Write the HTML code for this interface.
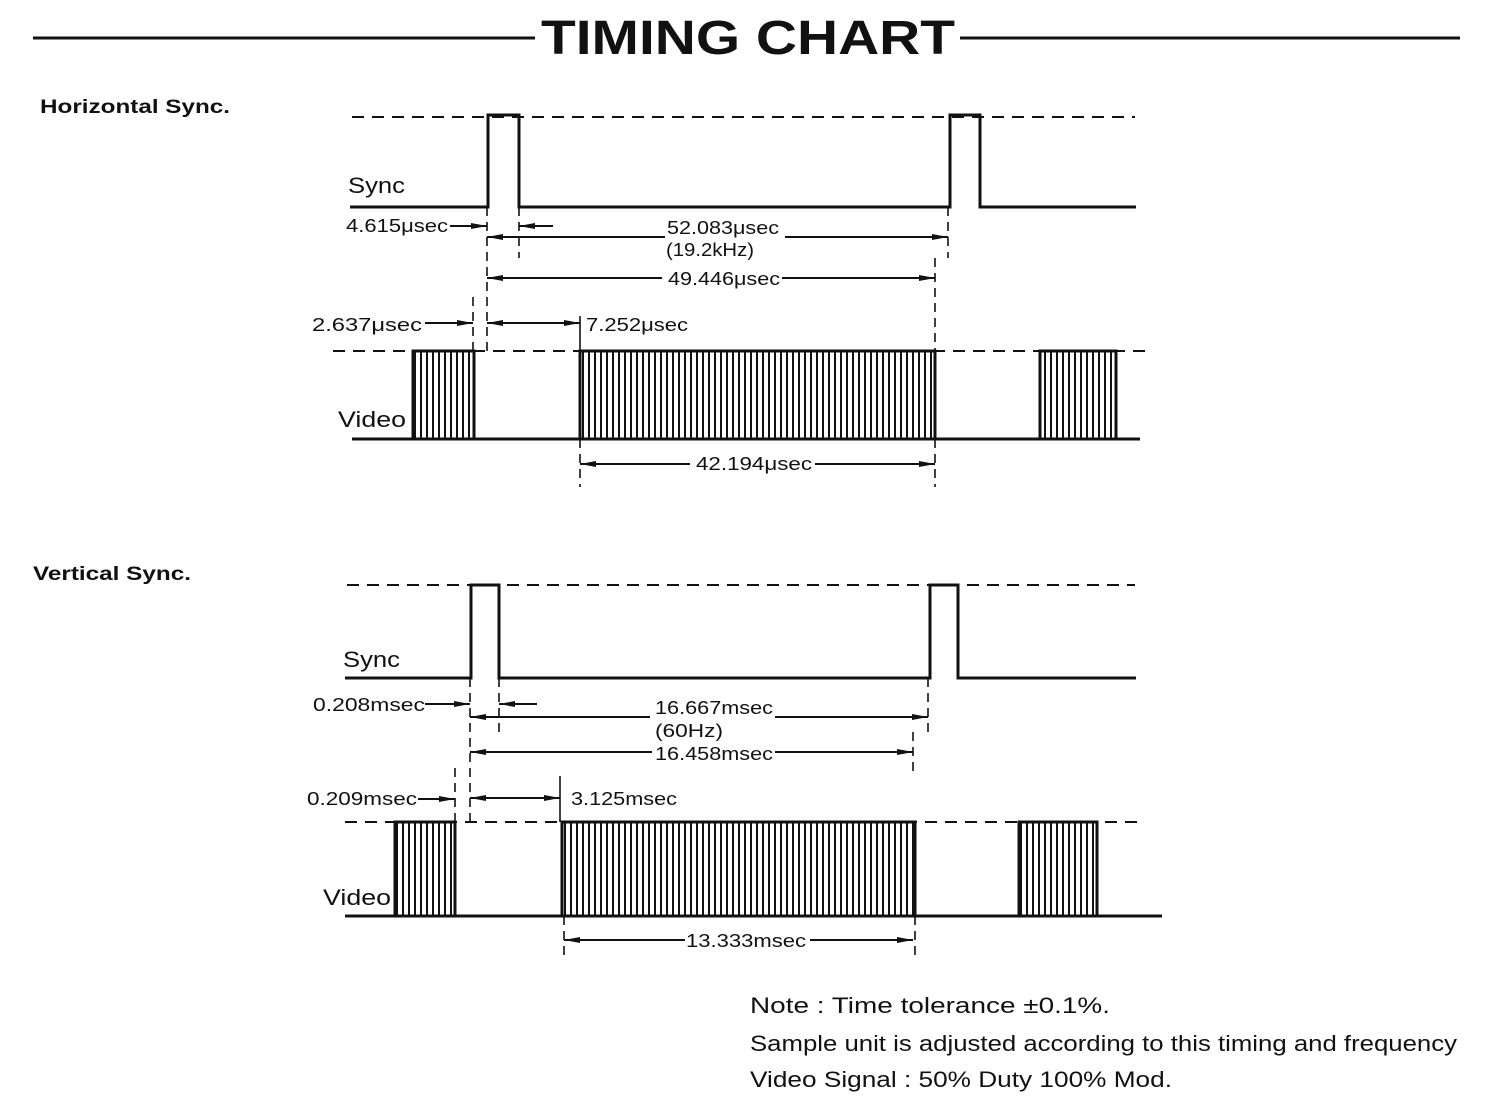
<!DOCTYPE html>
<html><head><meta charset="utf-8"><style>
html,body{margin:0;padding:0;background:#fff;}
svg{display:block;}
text{font-family:"Liberation Sans",sans-serif;fill:#111;}
</style></head><body>
<svg width="1500" height="1105" viewBox="0 0 1500 1105" xmlns="http://www.w3.org/2000/svg">
<defs>
<pattern id="h" width="6" height="10" patternUnits="userSpaceOnUse">
<rect x="0" y="0" width="2" height="10" fill="#111"/>
</pattern>
<marker id="a" viewBox="0 0 16 8" refX="16" refY="4" markerWidth="16" markerHeight="8" markerUnits="userSpaceOnUse" orient="auto-start-reverse">
<path d="M0,1 L16,4 L0,7 z" fill="#111"/>
</marker>
</defs>
<g stroke="#111" fill="none">
<line x1="33" y1="38" x2="535" y2="38" stroke-width="3"/>
<line x1="960" y1="38" x2="1460" y2="38" stroke-width="3"/>

<!-- HORIZONTAL -->
<line x1="352" y1="117" x2="1135" y2="117" stroke-width="2" stroke-dasharray="12,8"/>
<path d="M350,207 H488 V115 H519 V207 H950 V115 H980 V207 H1136" stroke-width="3"/>
<g stroke-width="1.6" stroke-dasharray="9,6">
<line x1="487" y1="207" x2="487" y2="352"/>
<line x1="519" y1="207" x2="519" y2="258"/>
<line x1="948" y1="207" x2="948" y2="258"/>
<line x1="935" y1="258" x2="935" y2="352"/>
<line x1="473" y1="297" x2="473" y2="352"/>
<line x1="935" y1="439" x2="935" y2="487"/>
<line x1="580" y1="439" x2="580" y2="487"/>
</g>
<line x1="580" y1="316" x2="580" y2="352" stroke-width="1.6"/>
<g stroke-width="2">
<line x1="450" y1="226" x2="487" y2="226" marker-end="url(#a)"/>
<line x1="553" y1="226" x2="519" y2="226" marker-end="url(#a)"/>
<line x1="487" y1="237" x2="665" y2="237" marker-start="url(#a)"/>
<line x1="785" y1="237" x2="948" y2="237" marker-end="url(#a)"/>
<line x1="487" y1="278" x2="662" y2="278" marker-start="url(#a)"/>
<line x1="782" y1="278" x2="935" y2="278" marker-end="url(#a)"/>
<line x1="425" y1="323" x2="473" y2="323" marker-end="url(#a)"/>
<line x1="487" y1="323" x2="580" y2="323" marker-start="url(#a)" marker-end="url(#a)"/>
<line x1="580" y1="464" x2="690" y2="464" marker-start="url(#a)"/>
<line x1="815" y1="464" x2="935" y2="464" marker-end="url(#a)"/>
</g>
<line x1="333" y1="351" x2="1145" y2="351" stroke-width="2" stroke-dasharray="12,8"/>
<rect x="413" y="351" width="61" height="88" fill="url(#h)" stroke-width="3"/>
<rect x="580" y="351" width="355" height="88" fill="url(#h)" stroke-width="3"/>
<rect x="1040" y="351" width="76" height="88" fill="url(#h)" stroke-width="3"/>
<line x1="352" y1="439" x2="1140" y2="439" stroke-width="3"/>

<!-- VERTICAL -->
<line x1="347" y1="585" x2="1135" y2="585" stroke-width="2" stroke-dasharray="12,8"/>
<path d="M345,678 H471 V585 H499 V678 H930 V585 H958 V678 H1136" stroke-width="3"/>
<g stroke-width="1.6" stroke-dasharray="9,6">
<line x1="470" y1="678" x2="470" y2="822"/>
<line x1="499" y1="678" x2="499" y2="732"/>
<line x1="928" y1="678" x2="928" y2="732"/>
<line x1="913" y1="732" x2="913" y2="776"/>
<line x1="455" y1="768" x2="455" y2="822"/>
<line x1="564" y1="916" x2="564" y2="957"/>
<line x1="915" y1="916" x2="915" y2="957"/>
</g>
<line x1="560" y1="776" x2="560" y2="822" stroke-width="1.6"/>
<g stroke-width="2">
<line x1="425" y1="704" x2="470" y2="704" marker-end="url(#a)"/>
<line x1="537" y1="704" x2="499" y2="704" marker-end="url(#a)"/>
<line x1="470" y1="717" x2="650" y2="717" marker-start="url(#a)"/>
<line x1="775" y1="717" x2="928" y2="717" marker-end="url(#a)"/>
<line x1="470" y1="752" x2="652" y2="752" marker-start="url(#a)"/>
<line x1="775" y1="752" x2="913" y2="752" marker-end="url(#a)"/>
<line x1="418" y1="799" x2="455" y2="799" marker-end="url(#a)"/>
<line x1="470" y1="798" x2="560" y2="798" marker-start="url(#a)" marker-end="url(#a)"/>
<line x1="564" y1="940" x2="685" y2="940" marker-start="url(#a)"/>
<line x1="810" y1="940" x2="913" y2="940" marker-end="url(#a)"/>
</g>
<line x1="345" y1="822" x2="1145" y2="822" stroke-width="2" stroke-dasharray="12,8"/>
<rect x="395" y="822" width="60" height="94" fill="url(#h)" stroke-width="3"/>
<rect x="562" y="822" width="353" height="94" fill="url(#h)" stroke-width="3"/>
<rect x="1019" y="822" width="78" height="94" fill="url(#h)" stroke-width="3"/>
<line x1="345" y1="916" x2="1162" y2="916" stroke-width="3"/>
</g>

<text x="541" y="54" font-size="48" font-weight="bold" textLength="414" lengthAdjust="spacingAndGlyphs">TIMING  CHART</text>
<text x="40" y="113" font-size="19" font-weight="bold" textLength="190" lengthAdjust="spacingAndGlyphs">Horizontal Sync.</text>
<text x="33" y="580" font-size="19" font-weight="bold" textLength="158" lengthAdjust="spacingAndGlyphs">Vertical Sync.</text>

<g font-size="22">
<text x="348" y="193" textLength="57" lengthAdjust="spacingAndGlyphs">Sync</text>
<text x="338" y="427" textLength="68" lengthAdjust="spacingAndGlyphs">Video</text>
<text x="343" y="667" textLength="57" lengthAdjust="spacingAndGlyphs">Sync</text>
<text x="323" y="905" textLength="68" lengthAdjust="spacingAndGlyphs">Video</text>
</g>
<g font-size="18" lengthAdjust="spacingAndGlyphs">
<text x="346" y="232" textLength="102" lengthAdjust="spacingAndGlyphs">4.615μsec</text>
<text x="667" y="234" textLength="112" lengthAdjust="spacingAndGlyphs">52.083μsec</text>
<text x="666" y="256" textLength="88" lengthAdjust="spacingAndGlyphs">(19.2kHz)</text>
<text x="668" y="285" textLength="112" lengthAdjust="spacingAndGlyphs">49.446μsec</text>
<text x="312" y="331" textLength="110" lengthAdjust="spacingAndGlyphs">2.637μsec</text>
<text x="586" y="331" textLength="102" lengthAdjust="spacingAndGlyphs">7.252μsec</text>
<text x="696" y="470" textLength="116" lengthAdjust="spacingAndGlyphs">42.194μsec</text>
<text x="313" y="711" textLength="112" lengthAdjust="spacingAndGlyphs">0.208msec</text>
<text x="655" y="714" textLength="118" lengthAdjust="spacingAndGlyphs">16.667msec</text>
<text x="655" y="737" textLength="68" lengthAdjust="spacingAndGlyphs">(60Hz)</text>
<text x="655" y="760" textLength="118" lengthAdjust="spacingAndGlyphs">16.458msec</text>
<text x="307" y="805" textLength="110" lengthAdjust="spacingAndGlyphs">0.209msec</text>
<text x="571" y="805" textLength="106" lengthAdjust="spacingAndGlyphs">3.125msec</text>
<text x="686" y="947" textLength="120" lengthAdjust="spacingAndGlyphs">13.333msec</text>
</g>
<g font-size="22">
<text x="750" y="1013" textLength="360" lengthAdjust="spacingAndGlyphs">Note :  Time tolerance ±0.1%.</text>
<text x="750" y="1051" textLength="707" lengthAdjust="spacingAndGlyphs">Sample unit is adjusted according to this timing and frequency</text>
<text x="750" y="1087" textLength="422" lengthAdjust="spacingAndGlyphs">Video Signal :  50% Duty 100% Mod.</text>
</g>
</svg>
</body></html>
